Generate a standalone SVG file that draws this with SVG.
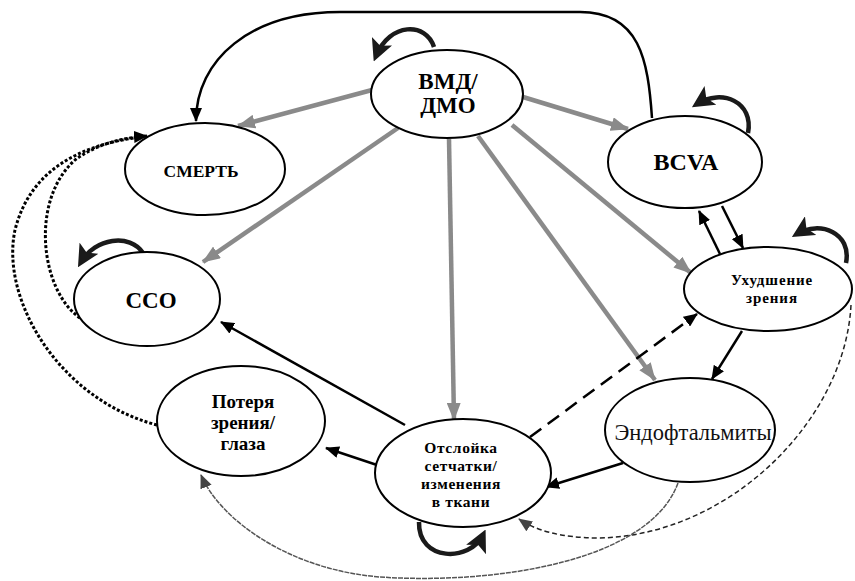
<svg xmlns="http://www.w3.org/2000/svg" width="855" height="581" viewBox="0 0 855 581">
<style>
.node ellipse{fill:#fff;stroke:#000;stroke-width:2}
text{font-family:"Liberation Serif","DejaVu Serif","Times New Roman",serif}
.t{font-weight:bold;fill:#000;text-anchor:middle}
.gray{stroke:#8a8a8a;stroke-width:4.5;fill:none}
.blk{stroke:#000;stroke-width:2.5;fill:none}
.loop{stroke:#1a1a1a;stroke-width:4.5;fill:none}
.dot{stroke:#000;stroke-width:3;fill:none;stroke-dasharray:3 2}
</style>
<defs>
<marker id="ag" markerUnits="userSpaceOnUse" markerWidth="18" markerHeight="14" refX="17" refY="7" orient="auto"><path d="M0,0 L18,7 L0,14 z" fill="#8a8a8a"/></marker>
<marker id="ab" markerUnits="userSpaceOnUse" markerWidth="14" markerHeight="12" refX="13" refY="6" orient="auto"><path d="M0,0 L14,6 L0,12 z" fill="#000"/></marker>
<marker id="al" markerUnits="userSpaceOnUse" markerWidth="22" markerHeight="22" refX="16" refY="11" orient="auto"><path d="M0,0 L22,11 L0,22 L5,11 z" fill="#1a1a1a"/></marker>
<marker id="ad" markerUnits="userSpaceOnUse" markerWidth="14" markerHeight="12" refX="13" refY="6" orient="auto"><path d="M0,0 L14,6 L0,12 z" fill="#444"/></marker>
</defs>
<g id="connectors">
<path class="blk" d="M652 118 C648 60 640 12 580 12 L340 12 C250 12 196 60 196 121" marker-end="url(#ab)"/>
<line class="gray" x1="372" y1="90" x2="238" y2="126" marker-end="url(#ag)"/>
<line class="gray" x1="398" y1="128" x2="203" y2="262" marker-end="url(#ag)"/>
<line class="gray" x1="449" y1="139" x2="454" y2="420" marker-end="url(#ag)"/>
<line class="gray" x1="478" y1="136" x2="655" y2="380" marker-end="url(#ag)"/>
<line class="gray" x1="512" y1="125" x2="691" y2="273" marker-end="url(#ag)"/>
<line class="gray" x1="523" y1="97" x2="628" y2="129" marker-end="url(#ag)"/>
<line class="blk" x1="720" y1="254" x2="699" y2="211" marker-end="url(#ab)"/>
<line class="blk" x1="722" y1="206" x2="743" y2="248" marker-end="url(#ab)"/>
<line class="blk" x1="742" y1="331" x2="712" y2="379" marker-end="url(#ab)"/>
<line class="blk" x1="405" y1="425" x2="221" y2="322" marker-end="url(#ab)"/>
<line class="blk" x1="377" y1="465" x2="326" y2="448" marker-end="url(#ab)"/>
<line class="blk" x1="623" y1="463" x2="546" y2="487" marker-end="url(#ab)"/>
<line class="blk" x1="530" y1="437" x2="697" y2="314" stroke-dasharray="14 8" marker-end="url(#ab)"/>
<path class="dot" d="M80 318 C40 290 30 200 75 160 C95 145 120 138 147 136" marker-end="url(#ab)"/>
<path class="dot" d="M157 425 C60 400 0 300 15 230 C30 170 80 145 140 137"/>
<path d="M851 305 C845 420 730 535 600 538 C560 538 535 530 519 519" fill="none" stroke="#222" stroke-width="1.5" stroke-dasharray="5 3" marker-end="url(#ad)"/>
<path d="M678 483 C650 560 500 585 380 577 C290 570 220 520 201 475" fill="none" stroke="#555" stroke-width="1.5" stroke-dasharray="5 1" marker-end="url(#ad)"/>
<path class="loop" d="M434 47 C426 22 390 22 376 56" marker-end="url(#al)"/>
<path class="loop" d="M748 133 C754 102 722 88 697 104" marker-end="url(#al)"/>
<path class="loop" d="M846 263 C852 233 820 220 797 234" marker-end="url(#al)"/>
<path class="loop" d="M143 253 C130 233 95 238 81 262" marker-end="url(#al)"/>
<path class="loop" d="M419 522 C418 562 470 562 483 535" marker-end="url(#al)"/>
</g>
<g id="n-vmd" class="node"><ellipse cx="447" cy="94" rx="76" ry="44"/><text class="t" x="448" y="89" font-size="23">ВМД/</text><text class="t" x="448" y="113" font-size="23">ДМО</text></g>
<g id="n-death" class="node"><ellipse cx="205" cy="169" rx="80" ry="46"/><text class="t" x="201" y="177" font-size="17.5">СМЕРТЬ</text></g>
<g id="n-bcva" class="node"><ellipse cx="685" cy="162" rx="77" ry="46"/><text class="t" x="686" y="170" font-size="24">BCVA</text></g>
<g id="n-vision" class="node"><ellipse cx="768" cy="289" rx="84" ry="42"/><text class="t" x="772" y="285" font-size="15" letter-spacing="0.9">Ухудшение</text><text class="t" x="772" y="303" font-size="15" letter-spacing="0.9">зрения</text></g>
<g id="n-cco" class="node"><ellipse cx="147" cy="299" rx="73" ry="47"/><text class="t" x="151" y="308" font-size="23">ССО</text></g>
<g id="n-loss" class="node"><ellipse cx="241" cy="421" rx="84" ry="55"/><text class="t" x="243" y="408" font-size="19">Потеря</text><text class="t" x="243" y="429" font-size="19">зрения/</text><text class="t" x="243" y="450" font-size="19">глаза</text></g>
<g id="n-detach" class="node"><ellipse cx="463" cy="473" rx="88" ry="54"/><text class="t" x="461" y="453" font-size="15.5" letter-spacing="0.6">Отслойка</text><text class="t" x="461" y="471" font-size="15.5" letter-spacing="0.6">сетчатки/</text><text class="t" x="461" y="489" font-size="15.5" letter-spacing="0.6">изменения</text><text class="t" x="461" y="507" font-size="15.5" letter-spacing="0.6">в ткани</text></g>
<g id="n-endo" class="node"><ellipse cx="690" cy="430" rx="85" ry="52"/><text x="693" y="440" font-size="22.5" text-anchor="middle" fill="#111">Эндофтальмиты</text></g>
</svg>
